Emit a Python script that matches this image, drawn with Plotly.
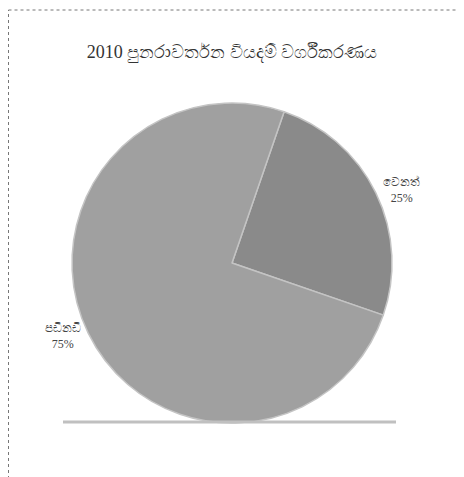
import plotly.graph_objects as go

labels = ["වෙනත්", "පඩිනඩි"]
values = [25, 75]
colors = ["#8a8a8a", "#a0a0a0"]
title_text = "2010 පුනරාවර්තන වියදම් වර්ගීකරණය"

W, H = 464, 477
off = 8  # page body margin
cx, cy, r = 232 - off, 263 - off, 160

fig = go.Figure(go.Pie(
    labels=labels,
    values=values,
    sort=False,
    direction="clockwise",
    rotation=19,
    marker=dict(colors=colors, line=dict(color="#c4c4c4", width=1.5)),
    textinfo="label+percent",
    textposition="outside",
    texttemplate="%{label}<br>%{percent:.0%}",
    textfont=dict(family="Liberation Serif, Noto Sans, serif", size=12, color="#444444"),
    showlegend=False,
    hoverinfo="label+percent",
    domain=dict(x=[(cx - r) / W, (cx + r) / W], y=[(H - cy - r) / H, (H - cy + r) / H]),
    automargin=False,
))

def px(x):
    return (x - off) / W

def py(y):
    return 1 - (y - off) / H

fig.update_layout(
    width=W, height=H,
    margin=dict(l=0, r=0, t=0, b=0),
    paper_bgcolor="white",
    plot_bgcolor="white",
    title=dict(text=title_text, x=px(232), xanchor="center", y=py(52), yanchor="middle",
               font=dict(family="Liberation Serif, Noto Sans, serif", size=18, color="#333333")),
    shapes=[
        dict(type="line", xref="paper", yref="paper", x0=px(8.5), x1=1, y0=py(10), y1=py(10),
             line=dict(color="#777777", width=1, dash="dot")),
        dict(type="line", xref="paper", yref="paper", x0=px(8.5), x1=px(8.5), y0=0, y1=py(10),
             line=dict(color="#777777", width=1, dash="dot")),
        dict(type="line", xref="paper", yref="paper", x0=px(63), x1=px(396), y0=py(422), y1=py(422),
             line=dict(color="#c0c0c0", width=3)),
    ],
)

fig.write_html("out.html")
